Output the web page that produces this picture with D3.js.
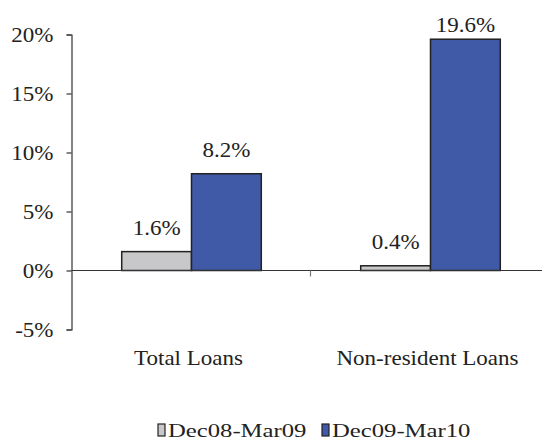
<!DOCTYPE html>
<html>
<head>
<meta charset="utf-8">
<script src="https://cdn.jsdelivr.net/npm/d3@7"></script>
<style>
  html, body { margin: 0; padding: 0; background: #fff; }
  svg { display: block; }
  text { font-family: "Liberation Serif", "Times New Roman", serif; fill: #222; }
</style>
</head>
<body>
<svg id="chart" width="542" height="441"></svg>
<script>
// Loan growth by category, two periods (percent)
const categories = ["Total Loans", "Non-resident Loans"];
const seriesNames = ["Dec08-Mar09", "Dec09-Mar10"];
const dec08Mar09 = [1.6, 0.4];
const dec09Mar10 = [8.2, 19.6];
const yTicks = [-5, 0, 5, 10, 15, 20];

const seriesValues = [dec08Mar09, dec09Mar10];
const colors = ["#c8c8ca", "#405aa8"];

const svg = d3.select("#chart");
const W = 542, H = 441;
const stretch = 1.15; // horizontal widening of the serif glyphs

const y = d3.scaleLinear().domain([-5, 20]).range([329.5, 34.5]);
const x0 = d3.scaleBand().domain(categories).range([72, 550]).padding(0);
const bw = x0.bandwidth();
const x1 = d3.scaleBand().domain(seriesNames).range([bw * 0.208, bw * 0.792]).padding(0);

const axisColor = "#333";

// Y axis
const yAxis = d3.axisLeft(y).tickValues(yTicks).tickSize(5).tickPadding(13)
  .tickFormat(d => d + "%");
const gy = svg.append("g").attr("transform", "translate(71.5,0)").call(yAxis);
gy.select(".domain").attr("stroke", axisColor).attr("stroke-width", 1.2);
gy.selectAll(".tick line").attr("stroke", axisColor).attr("stroke-width", 1.2);
gy.selectAll(".tick text")
  .attr("font-size", 20)
  .attr("font-family", "Liberation Serif, serif")
  .attr("fill", "#222")
  .attr("dy", "0.33em")
  .each(function() {
    const t = d3.select(this);
    const xx = +t.attr("x");
    t.attr("x", null).attr("transform", `translate(${xx},0) scale(${stretch},1)`);
  });

// Bars
const groups = svg.append("g").selectAll("g")
  .data(categories)
  .join("g")
  .attr("transform", d => `translate(${x0(d)},0)`);

groups.selectAll("rect")
  .data((c, i) => seriesNames.map((s, k) => ({ s, k, v: seriesValues[k][i] })))
  .join("rect")
  .attr("x", d => x1(d.s))
  .attr("width", x1.bandwidth())
  .attr("y", d => y(Math.max(0, d.v)))
  .attr("height", d => Math.abs(y(d.v) - y(0)))
  .attr("fill", d => colors[d.k])
  .attr("stroke", "#222")
  .attr("stroke-width", 1.5);

// Value labels above bars
groups.selectAll("text.val")
  .data((c, i) => seriesNames.map((s, k) => ({ s, k, v: seriesValues[k][i] })))
  .join("text")
  .attr("class", "val")
  .attr("text-anchor", "middle")
  .attr("font-size", 20)
  .attr("transform", d => {
    const cx = x1(d.s) + x1.bandwidth() / 2;
    const cy = Math.max(y(d.v) - 17, 32);
    return `translate(${cx},${cy}) scale(${stretch},1)`;
  })
  .text(d => d.v.toFixed(1) + "%");

// Zero baseline and category divider ticks
svg.append("line")
  .attr("x1", 71.5).attr("x2", W)
  .attr("y1", y(0)).attr("y2", y(0))
  .attr("stroke", axisColor).attr("stroke-width", 1.2);

svg.append("g").selectAll("line")
  .data(categories.slice(1))
  .join("line")
  .attr("x1", d => x0(d) - 0.5).attr("x2", d => x0(d) - 0.5)
  .attr("y1", y(0)).attr("y2", y(0) + 6)
  .attr("stroke", "#777").attr("stroke-width", 1.2);

// Category labels
svg.append("g").selectAll("text")
  .data(categories)
  .join("text")
  .attr("text-anchor", "middle")
  .attr("font-size", 20)
  .attr("transform", d => `translate(${x0(d) + bw / 2 - 3},365) scale(${stretch},1)`)
  .text(d => d);

// Legend
const legendX = [158, 322];
const lg = svg.append("g").selectAll("g")
  .data(seriesNames)
  .join("g")
  .attr("transform", (d, i) => `translate(${legendX[i]},0)`);
lg.append("rect")
  .attr("x", 0).attr("y", 424)
  .attr("width", 7).attr("height", 12)
  .attr("fill", (d, i) => colors[i])
  .attr("stroke", "#222").attr("stroke-width", 1.2);
lg.append("text")
  .attr("font-size", 19)
  .attr("transform", "translate(10,437) scale(1.3,1)")
  .text(d => d);
</script>
</body>
</html>
